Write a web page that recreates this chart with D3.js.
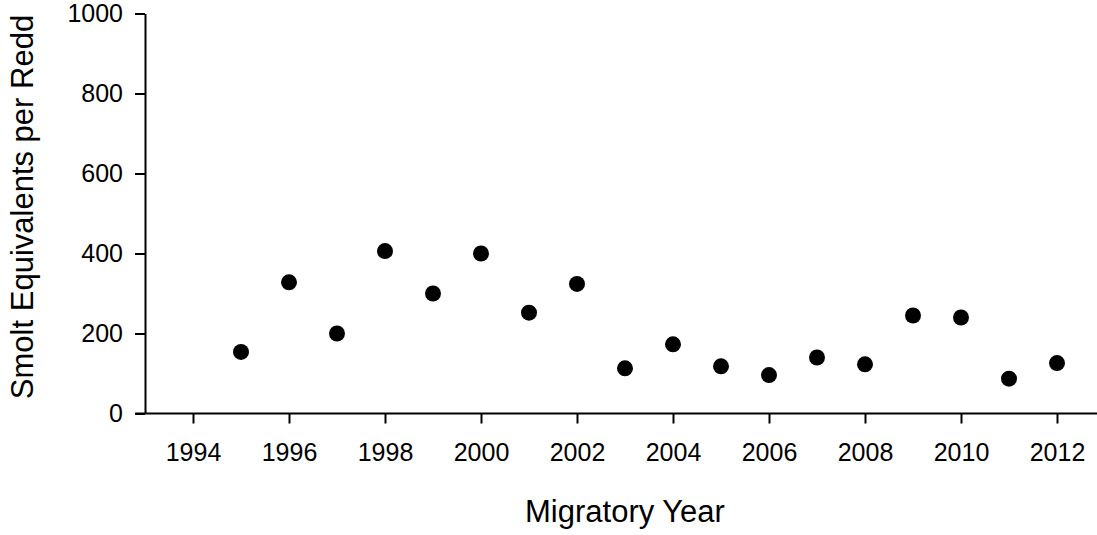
<!DOCTYPE html>
<html>
<head>
<meta charset="utf-8">
<script src="https://cdn.jsdelivr.net/npm/d3@7"></script>
<style>
  body { margin: 0; background: #fff; }
  svg { display: block; font-family: "Liberation Sans", Arial, sans-serif; }
  .tick text { font-size: 25px; fill: #000; font-family: "Liberation Sans", Arial, sans-serif; }
</style>
</head>
<body>
<svg id="chart" width="1097" height="535"></svg>
<script>
// values
const years = [1995, 1996, 1997, 1998, 1999, 2000, 2001, 2002, 2003, 2004,
               2005, 2006, 2007, 2008, 2009, 2010, 2011, 2012];
const smoltPerRedd = [154, 328, 200, 406, 300, 400, 252, 324, 113, 173,
                      118, 96, 140, 123, 245, 240, 87, 126];
const xTicks = [1994, 1996, 1998, 2000, 2002, 2004, 2006, 2008, 2010, 2012];
const yTicks = [0, 200, 400, 600, 800, 1000];

const svg = d3.select("#chart");

const x = d3.scaleLinear().domain([1993, 2013]).range([145, 1105]);
const y = d3.scaleLinear().domain([0, 1000]).range([413.5, 13.5]);

// x axis
const gx = svg.append("g")
    .attr("transform", `translate(0, ${y(0)})`)
    .call(d3.axisBottom(x).tickValues(xTicks).tickFormat(d3.format("d"))
        .tickSize(10).tickPadding(20).tickSizeOuter(0));
gx.select(".domain").attr("stroke-width", 2).attr("d", `M135,0H1105`);
gx.selectAll(".tick line").attr("stroke-width", 2);

// y axis
const gy = svg.append("g")
    .attr("transform", `translate(${x(1993)}, 0)`)
    .call(d3.axisLeft(y).tickValues(yTicks).tickFormat(d3.format("d"))
        .tickSize(10).tickPadding(12).tickSizeOuter(0));
gy.select(".domain").attr("stroke-width", 2);
gy.selectAll(".tick line").attr("stroke-width", 2);

// points
svg.append("g")
  .selectAll("circle")
  .data(years)
  .join("circle")
    .attr("cx", d => x(d))
    .attr("cy", (d, i) => y(smoltPerRedd[i]))
    .attr("r", 8)
    .attr("fill", "#000");

// axis titles
svg.append("text")
    .attr("x", 625)
    .attr("y", 522)
    .attr("text-anchor", "middle")
    .attr("font-size", 31)
    .text("Migratory Year");

svg.append("text")
    .attr("transform", "translate(33, 207) rotate(-90)")
    .attr("text-anchor", "middle")
    .attr("font-size", 31)
    .text("Smolt Equivalents per Redd");
</script>
</body>
</html>
